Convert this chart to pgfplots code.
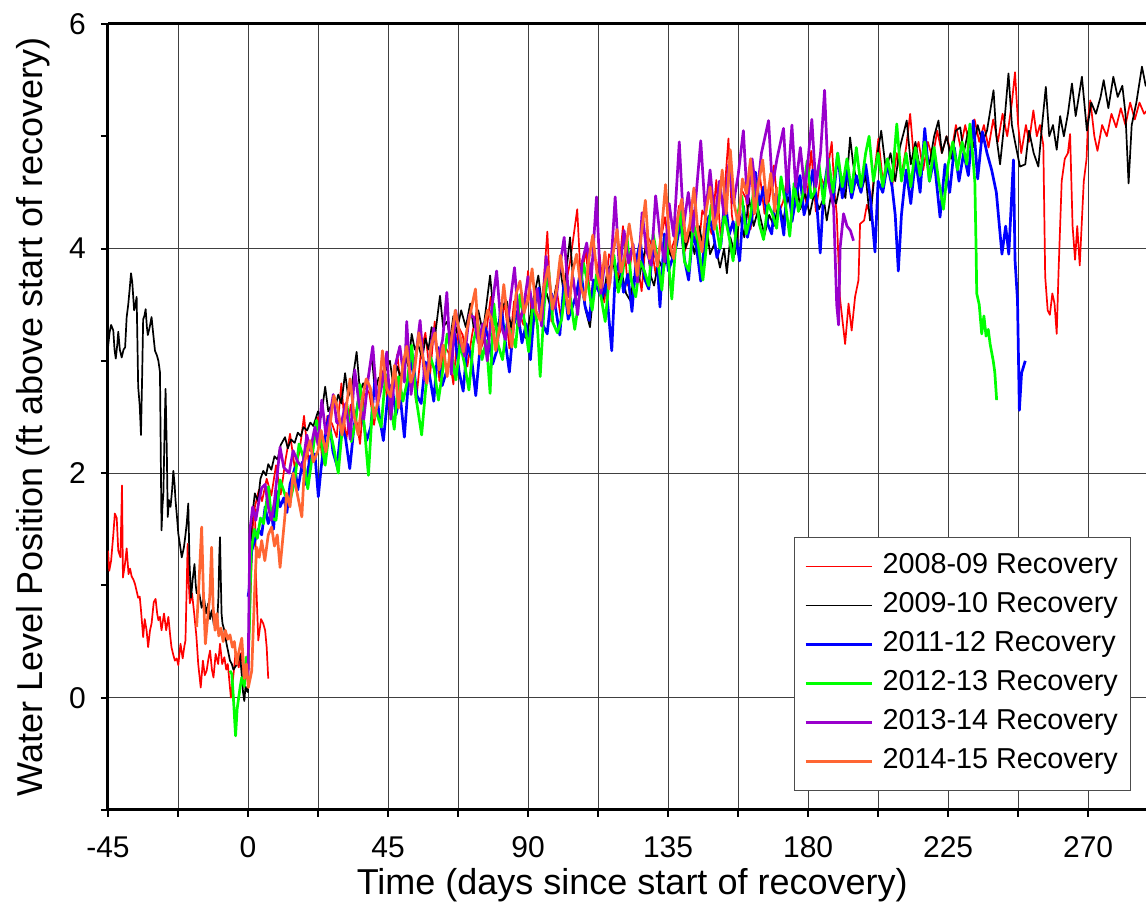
\documentclass[border=0pt]{standalone}
\usepackage{fontspec}
\setmainfont{Liberation Sans}
\usepackage{pgfplots}
\pgfplotsset{compat=1.18}
\usetikzlibrary{calc}

\definecolor{cred}{RGB}{255,0,0}
\definecolor{cblue}{RGB}{0,0,255}
\definecolor{cgreen}{RGB}{0,255,0}
\definecolor{cpurple}{RGB}{153,0,204}
\definecolor{corange}{RGB}{255,102,51}

\begin{document}
\begin{tikzpicture}
\begin{axis}[
  name=ax,
  scale only axis,
  width=519pt, height=393pt,
  xmin=-45, xmax=288.6,
  ymin=-1, ymax=6,
  axis x line=box, axis y line=left,
  axis line style={-, line width=1.5pt},
  xtick={-45,0,45,90,135,180,225,270},
  xticklabels={-45,0,45,90,135,180,225,270},
  minor xtick={-22.5,22.5,67.5,112.5,157.5,202.5,247.5},
  ytick={0,2,4,6}, yticklabels={0,2,4,6},
  minor ytick={-1,1,3,5},
  xtick pos=bottom,
  tick align=outside,
  major tick length=3.5pt, minor tick length=3.5pt,
  every tick/.style={black, line width=1pt},
  xmajorgrids, xminorgrids, ymajorgrids,
  major grid style={black!75, line width=0.5pt},
  minor grid style={black!75, line width=0.5pt},
  tick label style={font=\fontsize{15}{18}\selectfont},
  xticklabel style={yshift=-6.5pt},
  yticklabel style={xshift=-4pt},
  label style={font=\fontsize{18}{21}\selectfont},
  xlabel={Time (days since start of recovery)},
  xlabel style={at={(axis description cs:0.505,-0.0954)}, anchor=center},
  ylabel={Water Level Position (ft above start of recovery)},
  ylabel style={at={(axis description cs:-0.0723,0.5)}, anchor=center},
  legend style={at={(rel axis cs:0.9855,0.0242)}, anchor=south east,
    draw=black!70, line width=0.5pt, fill=white,
    font=\fontsize{14.4}{17}\selectfont,
    inner xsep=4.8pt, inner ysep=6.3pt,
    nodes={inner sep=1.5pt, text height=10.5pt, text depth=3pt},
    row sep=3pt,
    /tikz/every odd column/.append style={column sep=3.3pt}},
  legend cell align=left,
  legend image code/.code={\draw[#1] (0pt,0pt) -- (33pt,0pt);},
  every axis plot/.append style={no markers, line join=round},
]

% 2008-09 (main part)
\addplot[cred, line width=0.85pt] coordinates {
(2.2,1.7) (3.5,1.85) (4.5,1.75) (6,1.95) (7.5,1.8) (9.0,2.07) (10.5,1.81) (12.0,2.11) (13.5,2.35) (15.0,2.05)
(16.5,2.18) (18.0,2.51) (19.5,2.09) (21.0,2.22) (22.5,2.5) (24.0,2.08) (25.5,2.51) (27.0,2.44) (28.5,2.32) (30.0,2.8)
(31.5,2.28) (33.0,2.61) (34.5,2.53) (36.0,2.26) (37.5,2.78) (39.0,2.71) (40.5,2.43) (42.0,2.7) (43.5,2.92) (45.0,2.6)
(46.5,2.73) (48.0,3.06) (49.5,2.64) (51.0,2.77) (52.5,3.05) (54.0,2.63) (55.5,3.06) (57.0,3.25) (58.5,2.87) (60.0,3.35)
(61.5,2.82) (63.0,3.14) (64.5,3.07) (66.0,2.79) (67.5,3.31) (69.0,3.23) (70.5,2.95) (72.0,3.23) (73.5,3.45) (75.0,3.12)
(76.5,3.24) (78.0,3.57) (79.5,3.14) (81.0,3.26) (82.5,3.53) (84.0,3.11) (85.5,3.53) (87.0,3.45) (88.5,3.32) (90.0,3.8)
(91.5,3.27) (93.0,3.59) (94.5,3.51) (96.2,4.15) (97.5,3.35) (99.0,3.67) (100.5,3.39) (102.0,3.66) (103.5,3.88) (105.8,4.35)
(107.0,3.68) (108.5,4.0) (110.0,3.57) (111.5,3.68) (113.0,3.95) (114.5,3.52) (116.0,3.95) (117.5,3.87) (119.0,3.74) (120.5,4.2)
(122.0,3.67) (123.5,3.99) (125.0,3.9) (126.5,3.62) (128.0,4.13) (129.5,4.05) (131.0,3.77) (132.5,4.05) (134.0,4.28) (135.5,3.95)
(137.0,4.07) (138.5,4.38) (140.0,3.95) (141.5,4.07) (143.0,4.34) (144.5,3.91) (146.0,4.34) (147.5,4.26) (149.0,4.13) (150.5,4.61)
(152.0,4.07) (154.4,4.98) (155.5,4.3) (157.0,4.02) (158.5,4.53) (160.0,4.45) (161.5,4.17) (163.0,4.43) (164.5,4.65) (166.0,4.31)
(167.5,4.43) (169.0,4.74) (170.5,4.31) (172.0,4.42) (173.5,4.68) (175.0,4.25) (176.5,4.65) (178.0,4.55) (179.5,4.4) (181.0,4.87)
(182.5,4.33) (184.0,4.64) (185.5,4.55) (187.6,4.95) (188.5,4.5) (189.2,4.31) (190.2,3.57) (191.9,3.15) (193,3.51) (194,3.27)
(195.1,3.57) (196.2,3.72) (196.7,4.22) (198,4.25) (198.9,4.39) (200,4.3) (201,4.6) (202.6,4.98) (204,4.6) (205.5,4.8)
(207,4.55) (208.5,4.85) (210,4.65) (211.5,4.9) (212.8,5.2) (214,4.8) (215.5,4.95) (217,4.7) (218.5,4.95) (220,4.8)
(221.5,5.05) (223,4.85) (224.5,5.0) (226,4.85) (227.5,5.1) (229,4.9) (230.5,5.1) (232,4.9) (233.5,5.15) (235,4.95)
(236.5,5.1) (238,4.9) (239.5,5.15) (241,4.95) (242.5,5.2) (244,5.0) (245.5,5.3) (246.5,5.57) (247.5,5.1) (248.5,4.85)
(250,5.1) (251,4.95) (252.4,5.23) (253.5,5.0) (254.5,5.1) (255.6,4.92) (256.2,3.75) (257,3.45) (257.7,3.41) (258.5,3.6)
(259.2,3.51) (259.9,3.24) (260.5,3.8) (261.5,4.6) (262.5,4.8) (263.5,4.85) (264.2,5.02) (265,4.2) (265.8,3.9) (266.5,4.2)
(267.3,3.85) (268.6,4.6) (269.5,4.8) (270,5.16) (270.7,5.32) (272,5.0) (273,4.87) (274.5,5.1) (276,5.0) (277.5,5.2)
(279,5.08) (280.5,5.25) (282,5.1) (283.5,5.3) (285,5.15) (286.5,5.3) (288,5.2) (289.5,5.25)
};
% 2008-09 (before the start, with the short spur)
\addplot[cred, line width=0.85pt, forget plot] coordinates {
(-45,1.31) (-44.6,1.13) (-44,1.22) (-43.3,1.45) (-42.8,1.64) (-42.2,1.6) (-41.7,1.31) (-41,1.25) (-40.5,1.89) (-40.2,1.07)
(-39.5,1.2) (-39,1.33) (-38.4,1.1) (-37.9,1.15) (-37.4,1.08) (-36.8,1.05) (-36.3,1.01) (-35.8,0.95) (-35.3,0.89) (-34.8,0.9)
(-34.4,0.78) (-33.7,0.54) (-33.2,0.7) (-32.6,0.6) (-32.1,0.45) (-31.5,0.6) (-31,0.66) (-30.3,0.85) (-29.7,0.88) (-29.2,0.75)
(-28.8,0.69) (-28.3,0.72) (-27.8,0.6) (-27,0.75) (-26.3,0.6) (-25.6,0.72) (-25,0.55) (-24.6,0.45) (-24,0.38) (-23.5,0.33)
(-22.9,0.35) (-22.4,0.29) (-21.7,0.48) (-21,0.35) (-20.5,0.45) (-20.1,0.51) (-19.4,1.37) (-19,1.0) (-18.7,0.84) (-18,0.93)
(-17.3,0.75) (-16.6,0.55) (-16,0.3) (-15.2,0.09) (-14.5,0.33) (-13.9,0.2) (-13.3,0.24) (-12.7,0.35) (-12.2,0.42) (-11.6,0.25)
(-11.1,0.18) (-10.4,0.39) (-9.6,0.3) (-9,0.48) (-8.3,0.3) (-7.6,0.36) (-7,0.25) (-6.5,0.3) (-5.5,0.0) (-4.7,0.2)
(-4,0.4) (-3,0.27) (-2.2,0.4) (-1.2,0.15) (0,0.2) (0.8,0.9) (1.7,1.64) (2.2,1.7) (2.6,1.05) (3.3,0.51)
(4.2,0.7) (4.9,0.66) (5.5,0.6) (6.0,0.45) (6.5,0.17)
};

% 2009-10
\addplot[black, line width=0.85pt] coordinates {
(-45,3.12) (-44.5,3.25) (-44,3.32) (-43.3,3.27) (-42.9,3.1) (-42.5,3.02) (-42,3.15) (-41.7,3.26) (-41.2,3.1) (-40.6,3.03)
(-40,3.1) (-39.5,3.12) (-39,3.39) (-38.5,3.5) (-38,3.65) (-37.6,3.78) (-37.2,3.7) (-36.6,3.45) (-36.2,3.5) (-35.8,3.57)
(-35.5,3.1) (-35.3,2.77) (-34.8,2.6) (-34.4,2.34) (-34,2.9) (-33.7,3.37) (-33.3,3.4) (-32.9,3.46) (-32.5,3.3) (-32.2,3.23)
(-31.6,3.3) (-31,3.39) (-30.5,3.25) (-29.9,3.09) (-29.3,3.05) (-28.8,3.0) (-28.3,2.9) (-27.8,1.49) (-27.5,1.7) (-27.2,1.82)
(-26.8,2.4) (-26.5,2.75) (-26.1,2.2) (-25.8,1.61) (-25.4,1.76) (-24.9,1.7) (-24.4,1.85) (-24,2.02) (-23.6,1.9) (-23.3,1.76)
(-22.8,1.6) (-22.4,1.46) (-21.8,1.35) (-21.3,1.25) (-20.9,1.3) (-20.6,1.34) (-20.1,1.45) (-19.7,1.55) (-19.2,1.73) (-18.8,1.2)
(-18.3,0.89) (-17.8,1.05) (-17.2,1.19) (-16.8,1.0) (-16.5,0.93) (-15.8,0.95) (-15.2,0.85) (-14.9,0.8) (-14.2,0.9) (-13.5,0.75)
(-12.8,0.84) (-12.2,0.7) (-11.6,0.78) (-11,0.65) (-10.6,0.69) (-10,0.62) (-9.5,0.9) (-9.2,1.3) (-9,1.43) (-8.7,1.0)
(-8.5,0.75) (-8.2,0.66) (-7.6,0.6) (-6.9,0.48) (-6.3,0.4) (-5.8,0.33) (-5.2,0.3) (-4.7,0.25) (-4.2,0.27) (-3.5,0.3)
(-2.6,0.39) (-2,0.2) (-1.6,0.05) (-1.2,-0.03) (-0.8,0.1) (-0.4,0.06) (0,0.05) (0.6,1.0) (1.2,1.58) (2.2,1.82)
(3.2,1.75) (4.0,1.95) (4.9,2.02) (5.8,1.98) (6.5,2.08) (7.5,2.03) (8.5,2.15) (9.5,2.12) (10.5,2.25) (11.9,2.32)
(12.8,2.22) (13.8,2.3) (15,2.27) (16,2.36) (17,2.33) (17.8,2.41) (19,2.38) (20,2.45) (21,2.42) (22.5,2.55)
(23.5,2.5) (24.8,2.77) (25.8,2.55) (27,2.62) (28,2.58) (29,2.7) (30,2.62) (31.2,2.89) (32.2,2.68) (33.2,2.75)
(34.9,3.08) (36,2.72) (37,2.8) (38,2.75) (39.8,3.05) (40.8,2.72) (42,2.85) (43,2.78) (44,2.9) (45.6,3.0)
(46.6,2.8) (48,2.95) (49,2.85) (50.5,3.05) (51.5,2.95) (52.6,3.24) (53.6,3.1) (54.6,3.15) (56,3.02) (57,3.2)
(58,3.1) (59,3.3) (60,3.2) (61.7,3.58) (62.7,3.3) (64,3.35) (65,3.2) (66,3.4) (67,3.25) (68.5,3.45)
(70,3.3) (71.4,3.51) (72.5,3.3) (74,3.45) (75.5,3.25) (77.8,3.76) (79,3.4) (80.5,3.3) (82,3.5) (83.2,3.53)
(84.5,3.3) (86,3.45) (87.5,3.25) (89.5,3.2) (91,3.45) (93.3,3.76) (94.5,3.5) (96,3.6) (97.5,3.45) (99,3.65)
(100.3,3.83) (101.5,3.6) (103.5,4.1) (104.5,3.7) (105.5,3.58) (107,3.7) (108.5,3.45) (109.9,3.3) (111,3.6) (112.5,3.75)
(114,3.55) (115.5,3.8) (117.4,3.89) (118.5,3.65) (120,3.8) (121.5,3.6) (122.8,3.54) (124,3.75) (125.5,3.7) (126.8,3.9)
(128.2,4.04) (129.5,3.75) (130.5,3.67) (132,3.9) (133.5,3.8) (135,4.0) (136.5,3.9) (138,4.1) (139.4,4.31) (140.5,4.0)
(142,4.15) (143.5,3.95) (145,4.2) (146.3,4.0) (147.4,4.19) (148.5,3.95) (150,4.05) (151.7,3.83) (153,4.0) (153.9,3.78)
(155,4.1) (156.5,3.95) (158,4.3) (159.5,4.1) (161,4.45) (162.5,4.2) (164,4.35) (166,4.12) (167.5,4.3) (169,4.2)
(170.5,4.4) (172,4.25) (173.5,4.46) (175,4.3) (176.4,4.58) (177.5,4.35) (179,4.5) (180.5,4.3) (182,4.5) (183.5,4.35)
(185,4.45) (186,4.25) (187.5,4.5) (189,4.4) (190.5,4.6) (192,4.45) (193.5,4.99) (194.5,4.75) (195.6,4.6) (197,4.5)
(198.5,4.65) (199.9,4.25) (201.5,4.7) (203.5,5.05) (205,4.7) (206.5,4.85) (208,4.6) (209.5,4.9) (211.7,5.14) (213,4.75)
(214.5,4.95) (216,4.7) (217.5,4.9) (219,4.75) (220.5,5.0) (221.9,5.14) (223,4.85) (224.5,5.0) (226,4.8) (227.5,5.05)
(228.9,5.08) (230,4.85) (231.5,5.05) (233,4.9) (234.5,5.1) (236,4.95) (237.5,5.05) (239.6,5.41) (240.5,5.0) (241.7,4.75)
(243,5.1) (244.4,5.56) (245.5,5.1) (246.5,4.95) (248.1,4.73) (249.8,4.75) (251,5.05) (252.5,4.85) (254,4.73) (255.2,5.1)
(256.4,5.44) (257.5,5.0) (258.7,5.1) (259.9,4.88) (261,5.18) (262.2,5.0) (263.5,5.2) (264.8,5.47) (266,5.18) (268,5.53)
(269.6,5.05) (271,5.3) (272.5,5.2) (274,5.35) (275,5.5) (276.5,5.25) (278.1,5.53) (279.5,5.35) (281,5.45) (282,5.2)
(283,4.58) (284,5.1) (285.5,5.3) (287.3,5.62) (288.5,5.45) (289.5,5.5)
};

% 2011-12
\addplot[cblue, line width=1.35pt] coordinates {
(0,0.9) (0.3,0.95) (1.2,1.31) (2.2,1.4) (3.3,1.5) (4.4,1.45) (5.5,1.7) (6.5,1.55) (7.5,1.65) (8.2,1.5)
(9.2,1.84) (10.3,1.7) (11.5,1.78) (12.5,1.65) (13.5,1.9) (15.1,2.05) (16,1.85) (17.5,2.1) (18.5,1.9) (20,2.15)
(21.5,2.17) (22.6,1.79) (23.5,2.05) (24.6,2.29) (25.95,2.51) (27.3,2.19) (28.65,2.06) (30.0,2.44) (31.35,2.31) (32.7,2.04)
(34.05,2.41) (35.4,2.64) (36.75,2.51) (38.1,2.29) (39.45,2.41) (40.8,2.84) (42.15,2.52) (43.5,2.29) (44.85,2.67) (46.2,2.79)
(47.55,2.52) (48.9,2.69) (50.25,2.32) (51.6,2.84) (52.95,3.02) (54.3,2.69) (55.65,2.62) (57.0,2.99) (58.35,2.87) (59.7,2.64)
(61.05,3.12) (62.4,2.78) (63.75,2.9) (65.1,3.02) (66.45,3.24) (67.8,2.91) (69.15,2.73) (70.5,3.15) (71.85,3.02) (73.2,2.69)
(74.55,3.11) (75.9,3.33) (77.25,3.2) (78.6,2.97) (79.95,3.09) (81.3,3.51) (82.65,3.18) (84.0,2.9) (85.35,3.32) (86.7,3.44)
(88.05,3.16) (89.4,3.33) (90.75,3.01) (92.1,3.48) (93.45,3.65) (94.8,3.32) (96.15,3.24) (97.5,3.6) (98.85,3.47) (100.2,3.23)
(101.55,3.7) (102.9,3.37) (104.25,3.48) (105.6,3.6) (106.95,3.82) (108.3,3.49) (109.65,3.36) (111.0,3.72) (112.35,3.64) (113.7,3.56)
(115.05,3.68) (116.9,3.09) (118.0,3.77) (119.35,3.89) (120.7,3.61) (122.05,3.77) (123.4,3.44) (124.75,3.9) (126.1,4.06) (127.45,3.73)
(128.8,3.64) (130.15,4.0) (131.5,3.88) (132.4,3.48) (133.8,4.13) (135.1,3.8) (136.4,3.91) (137.7,4.03) (139.0,4.24) (140.3,3.9)
(141.6,3.72) (142.9,4.13) (144.2,4.0) (145.5,3.71) (146.8,4.08) (148.1,4.29) (149.4,4.16) (150.7,3.92) (152.0,4.04) (153.3,4.46)
(154.6,4.12) (155.9,4.24) (158.0,3.89) (159.2,4.38) (160.5,4.1) (161.8,4.26) (163.1,4.68) (164.4,4.39) (165.7,4.55) (167.0,4.22)
(168.3,4.13) (169.6,4.49) (170.9,4.36) (172.2,4.12) (173.5,4.68) (174.8,4.24) (176.1,4.45) (177.4,4.65) (178.7,4.3) (180.0,4.45)
(181.5,4.7) (182.8,4.4) (183.9,3.96) (185,4.5) (186.5,4.8) (188,4.4) (189.5,4.85) (191,4.45) (192.5,4.7) (194,4.45)
(195.5,4.65) (197,4.5) (198.5,4.75) (200,4.45) (201.5,3.97) (202.5,4.6) (204,4.5) (205.5,4.75) (207,4.55) (208,4.3)
(209,3.8) (210,4.3) (211.5,4.7) (213,4.4) (214.5,4.8) (216,4.5) (217.5,5.07) (219,4.6) (220.5,4.8) (222.4,4.28)
(224,4.75) (225.5,4.5) (227,4.9) (228.5,4.6) (230,4.85) (231.5,4.65) (233.1,5.14) (234.5,4.62) (236,5.04) (237.5,4.85)
(239,4.7) (240.5,4.5) (242.3,3.95) (243.5,4.2) (244.5,3.95) (245.3,4.4) (246,4.79) (246.5,3.9) (247.3,3.54) (247.9,2.56)
(248.6,2.89) (249.8,3.0)
};

% 2012-13
\addplot[cgreen, line width=1.35pt] coordinates {
(-5.8,0.24) (-5.2,0.21) (-4.7,0.0) (-4.0,-0.34) (-3.5,-0.1) (-3.0,0.0) (-2.5,0.1) (-2.0,0.18) (-1.2,0.1) (-0.6,0.36)
(0,0.3) (0.4,0.6) (1,1.3) (2,1.5) (3,1.42) (4,1.6) (5,1.55) (6.6,1.88) (7.5,1.6) (9,1.58)
(10.3,1.94) (12,1.8) (13.5,1.75) (15.0,1.93) (16.4,2.26) (17.8,2.14) (19.2,1.86) (20.6,2.14) (22.0,2.47) (23.4,2.29)
(24.8,2.07) (26.2,2.4) (27.6,2.22) (29.0,2.0) (30.4,2.43) (31.8,2.61) (33.2,2.28) (34.6,2.46) (36.0,2.79) (37.4,2.41)
(38.7,1.98) (40.0,2.6) (41.4,2.53) (42.8,2.41) (44.2,2.88) (45.6,2.66) (47.0,2.39) (48.4,2.86) (49.8,2.64) (51.2,2.82)
(52.6,3.14) (54.0,2.67) (55.8,2.34) (57.0,2.72) (58.4,3.05) (59.8,2.93) (61.2,2.65) (62.6,2.92) (64.0,3.24) (65.4,3.06)
(66.8,2.83) (68.2,3.15) (69.6,2.97) (71.0,2.74) (72.4,3.16) (73.8,3.34) (75.2,3.01) (76.6,3.18) (77.8,2.71) (79.0,3.51)
(80.4,3.14) (81.8,3.01) (83.2,3.33) (84.6,3.25) (86.0,3.12) (87.4,3.59) (88.8,3.36) (90.2,3.08) (91.6,3.55) (93.0,3.32)
(93.9,2.86) (95.2,3.5) (96.6,3.82) (98.0,3.34) (99.4,3.25) (100.8,3.37) (102.2,3.69) (103.6,3.56) (105.0,3.28) (106.4,3.55)
(107.8,3.87) (109.2,3.69) (110.6,3.45) (112.0,3.77) (113.4,3.58) (114.8,3.35) (116.2,3.77) (117.6,3.94) (119.0,3.61) (120.4,3.78)
(121.8,4.1) (123.2,3.71) (124.6,3.57) (126.0,3.89) (127.4,3.8) (128.8,3.67) (130.2,4.13) (131.6,3.91) (133.0,3.63) (134.4,4.11)
(136.2,3.55) (137.5,4.05) (138.9,4.36) (140.3,3.88) (141.7,3.8) (143.1,4.22) (144.5,4.08) (146.2,3.72) (147.5,4.07) (148.9,4.39)
(150.3,4.23) (151.7,4.0) (153.1,4.31) (154.5,4.12) (155.9,3.89) (157.3,4.3) (158.7,4.47) (160.1,4.13) (161.5,4.29) (162.9,4.61)
(164.3,4.22) (165.7,4.08) (167.1,4.4) (168.5,4.31) (169.9,4.18) (171.3,4.64) (172.7,4.4) (174.1,4.11) (175.5,4.58) (176.9,4.33)
(178.3,4.48) (179.7,4.78) (181,4.45) (182,4.5) (183.5,4.75) (185,4.4) (186.5,4.8) (188,4.5) (189.5,4.85) (191,4.55)
(192.5,4.8) (194,4.5) (195.5,4.9) (197,4.55) (198.5,4.85) (199.6,5.0) (201,4.6) (202.5,4.85) (204,4.55) (205.5,4.8)
(207,4.6) (208.5,5.11) (210,4.6) (211.5,4.85) (213,4.55) (214.5,4.9) (216,4.65) (217.5,4.95) (219,4.6) (220.5,4.9)
(222,4.6) (223.5,4.35) (225,4.75) (226.5,4.95) (228,4.7) (229.5,4.95) (231,4.75) (232,5.11) (233,4.8) (233.6,4.59)
(234,3.98) (234.2,3.6) (235,3.5) (235.8,3.24) (236.5,3.4) (237.2,3.22) (237.9,3.28) (238.5,3.15) (239.5,3.0) (240,2.9)
(240.6,2.65)
};

% 2013-14
\addplot[cpurple, line width=1.35pt] coordinates {
(0,0.16) (0.6,1.49) (1.5,1.7) (2.5,1.58) (3.5,1.75) (4.4,1.87) (5.5,1.9) (6.5,1.7) (7.5,1.58) (8.5,1.75)
(10.3,2.23) (11.5,2.05) (13.2,2.0) (14.5,2.2) (16,2.1) (17.5,2.05) (18.9,2.34) (20,2.2) (21.5,2.41) (22.5,2.25)
(23.7,2.65) (25,2.35) (26,2.45) (27.4,2.7) (28.5,2.45) (29.95,2.44) (31.4,2.62) (32.85,2.3) (34.3,2.92) (35.75,2.6)
(37.2,2.48) (38.65,2.85) (40.1,3.13) (41.55,2.6) (43.0,2.78) (44.6,3.08) (45.9,2.48) (47.35,2.96) (48.8,3.13) (50.25,2.81)
(51.0,3.35) (52.4,2.7) (53.85,3.03) (55.3,3.36) (56.75,2.83) (58.2,3.01) (59.65,3.29) (61.1,3.02) (62.55,3.19) (63.9,3.61)
(65.3,2.88) (66.75,3.45) (68.2,3.17) (69.65,3.04) (71.1,3.41) (72.55,3.39) (74.0,3.16) (75.45,3.33) (76.9,3.0) (78.35,3.47)
(79.9,3.8) (81.3,3.32) (82.75,3.19) (84.2,3.51) (85.65,3.83) (87.1,3.31) (88.55,3.48) (90.0,3.75) (91.45,3.47) (92.9,3.64)
(94.35,3.31) (95.8,3.93) (97.25,3.6) (98.7,3.47) (100.15,3.83) (101.6,4.1) (103.05,3.57) (104.5,3.74) (105.95,3.41) (107.4,3.88)
(108.85,4.05) (110.3,3.72) (112.0,4.46) (113.4,3.6) (114.85,3.92) (116.3,3.69) (118.0,4.46) (119.4,3.79) (120.85,4.16) (122.3,3.87)
(123.75,4.04) (125.2,3.7) (126.65,4.32) (128.1,3.98) (129.55,3.85) (131.0,4.47) (132.45,4.1) (133.9,3.88) (135.35,4.4) (136.8,4.11)
(138.6,4.95) (140,4.2) (141.5,4.5) (143,4.15) (145.5,4.96) (147,4.3) (148.5,4.7) (150,4.25) (151.5,4.6) (153,4.3)
(154.5,4.75) (156,4.4) (157.5,4.65) (159.2,5.05) (160.5,4.4) (162,4.8) (163.5,4.45) (165,4.85) (167.3,5.14) (168.5,4.55)
(170,4.8) (172.1,5.07) (173.3,4.5) (174.8,5.1) (176,4.55) (177.5,4.9) (179,4.5) (181.2,5.15) (182.5,4.55) (184,4.85)
(185.3,5.41) (186.5,4.6) (188.2,4.37) (189.2,3.5) (189.8,3.32) (190.3,4.01) (191.4,4.31) (192.5,4.2) (193.6,4.16) (194.6,4.07)
};

% 2014-15
\addplot[corange, line width=1.35pt] coordinates {
(-16.5,0.63) (-15.8,1.0) (-14.9,1.52) (-14.3,0.9) (-13.7,0.48) (-13,0.7) (-12.3,0.9) (-11.7,1.34) (-11.2,0.8) (-10.6,0.6)
(-10,0.75) (-9.4,0.55) (-8.7,0.62) (-8,0.5) (-7.3,0.6) (-6.5,0.52) (-5.8,0.56) (-5,0.45) (-4.4,0.5) (-3.6,0.3)
(-3,0.4) (-2,0.53) (-1.2,0.17) (-0.5,0.3) (0.1,0.09) (1.2,0.24) (2.25,1.04) (2.8,1.34) (3.6,1.25) (4.4,1.40)
(5.4,1.22) (6.5,1.45) (7.6,1.52) (8.5,1.35) (9.4,1.45) (10.3,1.16) (11.8,1.6) (12.4,1.82) (13.5,1.7) (14.5,2.0)
(15.8,1.82) (17.3,1.61) (18.2,2.1) (19.9,2.29) (21,2.1) (22.5,2.2) (23.5,2.38) (25.0,2.19) (26.3,2.42) (27.6,2.69)
(28.9,2.57) (30.2,2.34) (31.5,2.57) (32.8,2.84) (34.1,2.51) (35.4,2.34) (36.7,2.66) (38.0,2.84) (39.3,2.76) (40.6,2.49)
(41.9,2.66) (43.2,3.09) (44.5,2.76) (45.8,2.68) (47.1,2.96) (48.4,2.58) (49.7,2.96) (51.0,3.13) (52.3,2.81) (53.6,2.93)
(54.9,3.25) (56.2,3.03) (57.5,2.8) (58.8,3.13) (60.1,3.25) (61.4,2.92) (62.7,3.14) (64.0,2.86) (65.3,3.18) (66.6,3.45)
(67.9,3.26) (69.2,3.08) (70.5,3.3) (71.8,3.47) (73.1,3.64) (74.4,3.06) (75.7,3.28) (77.0,3.45) (78.3,3.37) (79.6,3.09)
(80.9,3.31) (82.2,3.68) (83.5,3.35) (84.8,3.12) (86.1,3.59) (87.4,3.71) (88.7,3.43) (90.0,3.55) (91.3,3.82) (92.6,3.44)
(93.9,3.36) (95.2,3.67) (96.5,3.84) (97.8,3.46) (99.1,3.62) (100.4,3.94) (101.7,3.7) (103.0,3.42) (104.3,3.79) (105.6,3.95)
(106.9,3.67) (108.2,3.54) (109.5,3.9) (110.8,4.12) (112.1,3.79) (113.4,3.65) (114.7,3.97) (116.0,3.64) (117.3,3.95) (118.6,4.17)
(119.9,3.79) (121.2,3.96) (122.5,4.22) (123.8,3.99) (125.1,3.76) (126.4,4.12) (127.7,4.43) (129.0,3.91) (130.3,4.07) (131.6,3.84)
(132.9,4.16) (134.2,4.57) (135.5,4.04) (136.8,3.91) (138.1,4.27) (139.4,4.44) (140.7,4.06) (142.0,4.22) (143.3,4.54) (144.6,4.15)
(145.9,3.97) (147.2,4.33) (148.5,4.55) (149.8,4.17) (151.1,4.33) (152.4,4.7) (153.7,4.31) (155.0,4.88) (156.3,4.39) (157.6,4.21)
(158.9,4.62) (160.2,4.49) (161.5,4.8) (162.8,4.31) (164.1,4.58) (165.4,4.79) (166.7,4.4) (168.0,4.67) (169.3,4.33) (170.0,4.55)
};

\legend{2008-09 Recovery, 2009-10 Recovery, 2011-12 Recovery, 2012-13 Recovery, 2013-14 Recovery, 2014-15 Recovery}
\end{axis}
\pgfresetboundingbox
\useasboundingbox ($(ax.south west)+(-54pt,-47.5pt)$) rectangle ($(ax.north east)+(0pt,12pt)$);
\end{tikzpicture}
\end{document}
